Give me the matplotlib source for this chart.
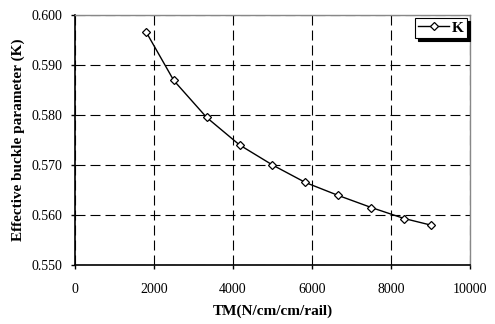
import matplotlib
matplotlib.use("Agg")
import matplotlib.pyplot as plt

tm = [1800, 2500, 3333, 4167, 5000, 5833, 6667, 7500, 8333, 9000]
k_values = [0.5966, 0.5869, 0.5795, 0.5740, 0.5700, 0.5665, 0.5639, 0.5615, 0.5593, 0.5580]
x_ticks = [0, 2000, 4000, 6000, 8000, 10000]
y_ticks = [0.550, 0.560, 0.570, 0.580, 0.590, 0.600]
series_name = "K"
x_label = "TM(N/cm/cm/rail)"
y_label = "Effective buckle parameter (K)"

plt.rcParams['font.family'] = ['Liberation Serif', 'DejaVu Serif']

fig = plt.figure(figsize=(4.95, 3.24), dpi=100)
ax = fig.add_axes([0.1515, 0.182, 0.798, 0.772])

ax.plot(tm, k_values, color='black', lw=1.0, marker='D', markersize=4.5,
        markerfacecolor='white', markeredgecolor='black', markeredgewidth=0.9,
        label=series_name, zorder=3)

ax.set_xlim(0, 10000)
ax.set_ylim(0.550, 0.600)
ax.set_xticks(x_ticks)
ax.set_yticks(y_ticks)
ax.set_yticklabels([f"{v:.3f}" for v in y_ticks])
ax.grid(True, color='black', linestyle=(0, (9, 4.5)), linewidth=0.8)
ax.set_axisbelow(True)

for s in ['top', 'right']:
    ax.spines[s].set_color('#888888')
    ax.spines[s].set_linewidth(1.0)
for s in ['left', 'bottom']:
    ax.spines[s].set_color('black')
    ax.spines[s].set_linewidth(1.2)

ax.tick_params(axis='both', labelsize=10, length=3, width=1, direction='out', pad=6)
ax.tick_params(axis='x', pad=10)

ax.set_xlabel(x_label, fontsize=11, fontweight='bold', labelpad=6)
ax.set_ylabel(y_label, fontsize=11, fontweight='bold', labelpad=5)

leg = ax.legend(loc='upper right', prop={'weight': 'bold', 'size': 11},
                frameon=True, fancybox=False, shadow={'color': 'black', 'alpha': 1},
                borderpad=0.2, handlelength=2.0, handletextpad=0.2,
                borderaxespad=0.2)
leg.get_frame().set_edgecolor('black')
leg.get_frame().set_linewidth(0.8)

fig.savefig("out.png", dpi=100)
